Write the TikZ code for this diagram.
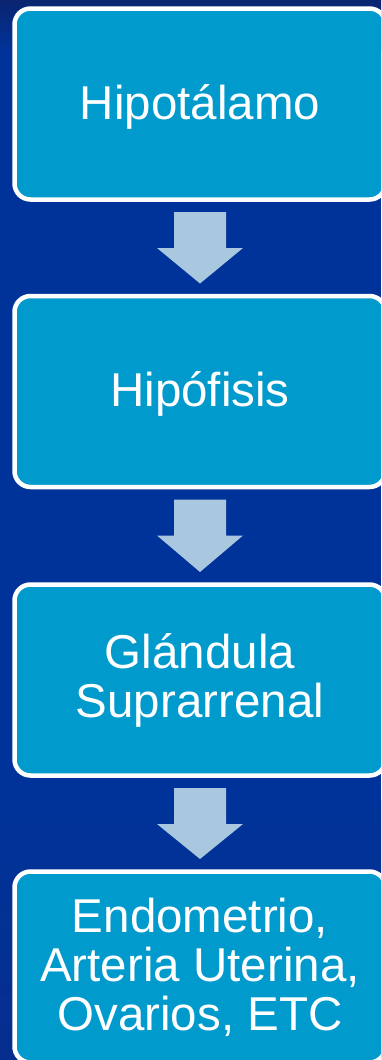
\documentclass[tikz,border=0pt]{standalone}
\usepackage{fontspec}
\setmainfont{Liberation Sans}
\usetikzlibrary{calc}
\definecolor{bgnavy}{HTML}{003399}
\definecolor{bgdark}{HTML}{0A2470}
\definecolor{bgbottom}{HTML}{062E8E}
\definecolor{boxcyan}{HTML}{009ACD}
\definecolor{arrowblue}{HTML}{A9C8E0}
\tikzset{
  flowbox/.style={draw=white, line width=4.5pt, fill=boxcyan, rounded corners=16pt,
    minimum width=371pt, minimum height=191pt, outer sep=0pt, inner sep=0pt,
    text=white, align=center, font=\fontsize{47.5}{49}\selectfont},
  singlebox/.style={flowbox, text height=34pt, text depth=4pt},
  blockarrow/.style={fill=arrowblue, draw=none}
}
\newcommand{\blkarrow}[2]{%
  \fill[blockarrow] ($(#1.south)+(-26,12.5)$) -- ($(#1.south)+(26,12.5)$)
    -- ($(#1.south)+(26,48.5)$) -- ($(#1.south)+(43,48.5)$)
    -- ($(#2.north)+(0,-12.5)$)
    -- ($(#1.south)+(-43,48.5)$) -- ($(#1.south)+(-26,48.5)$) -- cycle;}
\begin{document}
\begin{tikzpicture}[x=1pt,y=-1pt]
  \useasboundingbox (0,0) rectangle (381,1060);
  \clip (0,0) rectangle (381,1060);
  \fill[bgnavy] (0,0) rectangle (381,1060);
  \shade[top color=bgdark, bottom color=bgnavy] (0,0) rectangle (381,50);
  \shade[top color=bgnavy, bottom color=bgbottom] (0,800) rectangle (381,1060);
  \node[singlebox] (b1) at (200,104) {Hipotálamo};
  \node[singlebox] (b2) at (200,391.5) {Hipófisis};
  \node[flowbox] (b3) at (200,680) {Glándula\\Suprarrenal};
  \node[flowbox] (b4) at (200,967) {Endometrio,\\Arteria Uterina,\\Ovarios, ETC};
  \blkarrow{b1}{b2}
  \blkarrow{b2}{b3}
  \blkarrow{b3}{b4}
\end{tikzpicture}
\end{document}
